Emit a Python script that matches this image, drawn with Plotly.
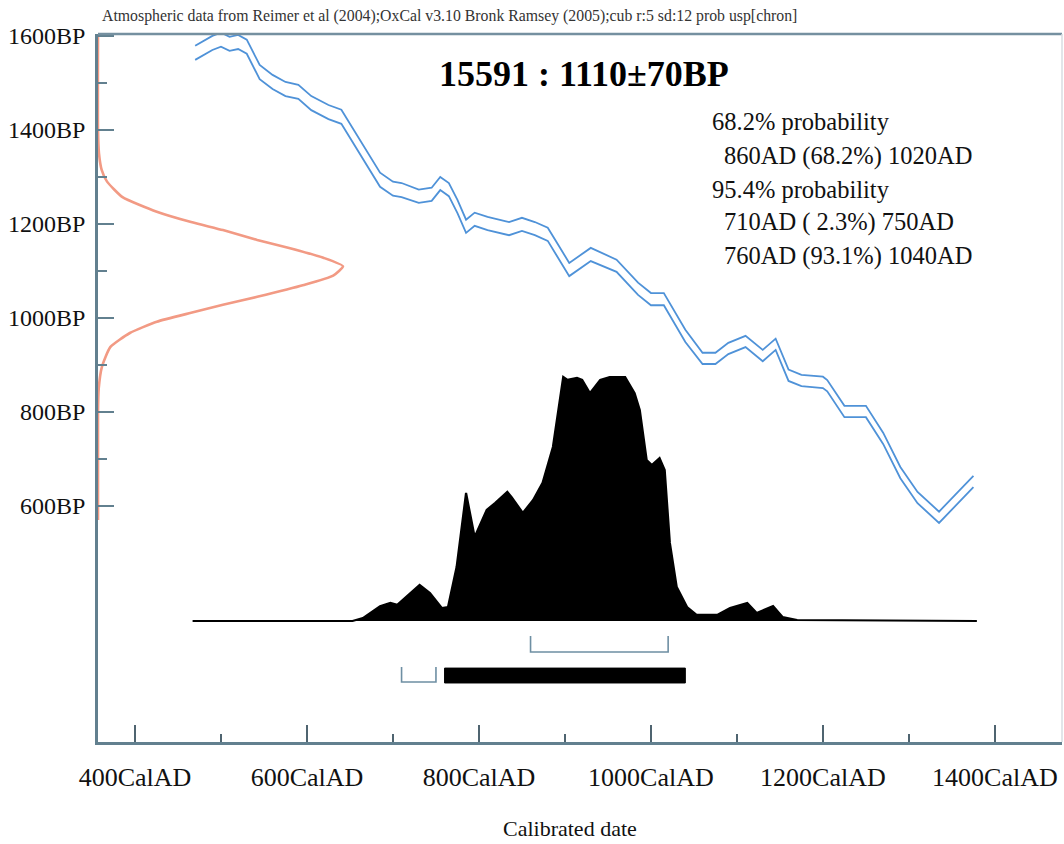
import plotly.graph_objects as go

# ---------------- data ----------------
# calibration curve (IntCal04 excerpt): calendar year AD, radiocarbon BP, 1-sigma
cal_years = [470, 490, 500, 510, 520, 530, 545, 560, 575, 590,
             605, 625, 640, 655, 670, 685, 700, 710, 730, 745,
             755, 765, 775, 785, 795, 810, 835, 850, 865, 880,
             890, 905, 930, 960, 985, 1000, 1015, 1040, 1060, 1075,
             1090, 1110, 1130, 1145, 1160, 1175, 1200, 1205, 1225, 1250,
             1270, 1290, 1310, 1335, 1375]
cal_bp = [1564, 1585, 1592, 1583, 1587, 1577, 1523, 1502, 1487, 1481,
          1457, 1438, 1428, 1383, 1336, 1294, 1275, 1272, 1259, 1263,
          1286, 1273, 1237, 1195, 1210, 1201, 1190, 1199, 1190, 1178,
          1148, 1103, 1135, 1111, 1062, 1040, 1040, 962, 914, 914,
          935, 950, 920, 944, 878, 867, 863, 856, 801, 801,
          744, 671, 618, 576, 652]
cal_sigma = [15, 15, 15, 15, 15, 15, 15, 15, 15, 15,
             15, 15, 15, 15, 15, 15, 15, 15, 14, 14,
             14, 14, 14, 14, 14, 14, 14, 14, 14, 14,
             14, 14, 14, 13, 13, 13, 13, 13, 12, 12,
             12, 12, 12, 12, 12, 12, 12, 12, 12, 12,
             12, 12, 12, 12, 12]

# radiocarbon measurement 1110 +/- 70 BP (relative density)
meas_bp = [1600, 1400, 1350, 1315, 1290, 1257, 1226, 1204, 1187, 1166,
           1149, 1128, 1110, 1090, 1070, 1045, 1028, 1011, 992, 968,
           938, 896, 850, 800, 570]
meas_density = [0, 0, 0.004, 0.015, 0.037, 0.10, 0.24, 0.38, 0.51, 0.65,
                0.78, 0.92, 1.0, 0.96, 0.84, 0.65, 0.51, 0.38, 0.24, 0.13,
                0.05, 0.016, 0.003, 0, 0]

# calibrated probability distribution (relative)
prob_years = [467, 653, 665, 675, 685, 697, 705, 731, 743, 757,
              764, 774, 785, 795, 809, 819, 833, 838, 851, 863,
              874, 886, 898, 903, 914, 920, 929, 941, 952, 970,
              981, 987, 995, 1001, 1010, 1016, 1022, 1030, 1042, 1053,
              1077, 1092, 1112, 1123, 1142, 1153, 1170, 1379]
prob = [0, 0, 0.012, 0.035, 0.06, 0.074, 0.066, 0.148, 0.115, 0.053,
        0.057, 0.221, 0.525, 0.344, 0.455, 0.484, 0.529, 0.508, 0.443, 0.496,
        0.566, 0.713, 1.0, 0.988, 0.996, 0.988, 0.934, 0.988, 1.0, 1.0,
        0.934, 0.865, 0.66, 0.639, 0.668, 0.619, 0.32, 0.139, 0.057, 0.025,
        0.025, 0.053, 0.074, 0.033, 0.061, 0.016, 0.004, 0]

# calibrated ranges
range68_from = [860]
range68_to = [1020]
range68_pct = [68.2]
range95_from = [710, 760]
range95_to = [750, 1040]
range95_pct = [2.3, 93.1]

x_tick_vals = [400, 600, 800, 1000, 1200, 1400]
x_tick_text = ["400CalAD", "600CalAD", "800CalAD", "1000CalAD", "1200CalAD", "1400CalAD"]
x_minor_vals = [500, 700, 900, 1100, 1300]
y_tick_vals = [600, 800, 1000, 1200, 1400, 1600]
y_tick_text = ["600BP", "800BP", "1000BP", "1200BP", "1400BP", "1600BP"]
y_minor_vals = [700, 900, 1100, 1300, 1500]

title_text = "15591 : 1110\u00b170BP"
header_text = ("Atmospheric data from Reimer et al (2004);OxCal v3.10 Bronk Ramsey (2005);"
               "cub r:5 sd:12 prob usp[chron]")

# ---------------- styling / layout ----------------
W, H = 1064, 844
ML, MR, MT, MB = 98, 2, 34, 102
PW, PH = W - ML - MR, H - MT - MB
FONT = "Liberation Serif"
AXC = "#62808f"
BLUE = "#4f92d8"
RED = "#f29a84"


def px(xp):
    return (xp - ML) / PW


def py(yp):
    return (H - MB - yp) / PH


fig = go.Figure()

# calibration curve band (two lines)
upper = [b + s for b, s in zip(cal_bp, cal_sigma)]
lower = [b - s for b, s in zip(cal_bp, cal_sigma)]
for band in (upper, lower):
    fig.add_trace(go.Scatter(x=cal_years, y=band, mode="lines",
                             line=dict(color=BLUE, width=1.8),
                             hoverinfo="skip", showlegend=False))

# measurement distribution on left
fig.add_trace(go.Scatter(x=meas_density, y=meas_bp, mode="lines", xaxis="x2", yaxis="y",
                         line=dict(color=RED, width=2.6, shape="spline", smoothing=0.5),
                         hoverinfo="skip", showlegend=False))

# calibrated distribution
fig.add_trace(go.Scatter(x=prob_years, y=prob, mode="lines", xaxis="x", yaxis="y2",
                         fill="tozeroy", fillcolor="black",
                         line=dict(color="black", width=2.2),
                         hoverinfo="skip", showlegend=False))

# range brackets (positions in probability-axis units below the baseline)
shapes = []
BR68_Y, BR68_TOP = -0.127, -0.061
BR95_Y, BR95_TOP = -0.250, -0.189
BAR_TOP, BAR_BOT = -0.193, -0.254
BRC = "#6e8fa3"
for a, b in zip(range68_from, range68_to):
    shapes.append(dict(type="path", xref="x", yref="y2",
                       path=f"M {a},{BR68_TOP} L {a},{BR68_Y} L {b},{BR68_Y} L {b},{BR68_TOP}",
                       line=dict(color=BRC, width=1.6)))
for a, b, p in zip(range95_from, range95_to, range95_pct):
    if p > 50:
        shapes.append(dict(type="rect", xref="x", yref="y2", x0=a, x1=b, y0=BAR_BOT, y1=BAR_TOP,
                           fillcolor="black", line=dict(color="black", width=1)))
    else:
        shapes.append(dict(type="path", xref="x", yref="y2",
                           path=f"M {a},{BR95_TOP} L {a},{BR95_Y} L {b},{BR95_Y} L {b},{BR95_TOP}",
                           line=dict(color=BRC, width=1.6)))

# frame: top line and faint right line
shapes.append(dict(type="line", xref="paper", yref="paper", x0=0, x1=1, y0=1.0, y1=1.0,
                   line=dict(color="#7590a0", width=2.5)))
shapes.append(dict(type="line", xref="paper", yref="paper", x0=1, x1=1, y0=0, y1=1,
                   line=dict(color="#d8dde2", width=1.5)))

annotations = []
annotations.append(dict(text=header_text, xref="paper", yref="paper", x=px(100), y=py(16),
                        xanchor="left", yanchor="middle", showarrow=False,
                        font=dict(family=FONT, size=15.8, color="#333")))
annotations.append(dict(text=f"<b>{title_text}</b>", xref="paper", yref="paper",
                        x=px(584), y=py(74), xanchor="center", yanchor="middle", showarrow=False,
                        font=dict(family=FONT, size=36, color="black")))

lines = [("68.2% probability", 710, 122)]
for a, b, p in zip(range68_from, range68_to, range68_pct):
    lines.append((f"{a}AD ({p:4.1f}%) {b}AD", 722, 156))
lines.append(("95.4% probability", 710, 189))
yy = 222
for a, b, p in zip(range95_from, range95_to, range95_pct):
    lines.append((f"{a}AD ({p:4.1f}%) {b}AD".replace("( ", "(&nbsp;"), 722, yy))
    yy += 34
for t, xp, yp in lines:
    annotations.append(dict(text=t, xref="paper", yref="paper", x=px(xp), y=py(yp),
                            xanchor="left", yanchor="middle", showarrow=False,
                            font=dict(family=FONT, size=24.5, color="#111")))

annotations.append(dict(text="Calibrated date", xref="paper", yref="paper", x=px(570), y=py(829),
                        xanchor="center", yanchor="middle", showarrow=False,
                        font=dict(family=FONT, size=22, color="#111")))

fig.update_layout(
    width=W, height=H,
    margin=dict(l=ML, r=MR, t=MT, b=MB, pad=0, autoexpand=False),
    paper_bgcolor="white", plot_bgcolor="white",
    showlegend=False,
    xaxis=dict(range=[357, 1478], tickmode="array", tickvals=x_tick_vals, ticktext=x_tick_text,
               automargin=False,
               ticks="inside", ticklen=17, tickwidth=1.6, tickcolor="#4f6470",
               showline=True, linecolor=AXC, linewidth=2.5, showgrid=False, zeroline=False,
               tickfont=dict(family=FONT, size=26, color="#111"), ticklabelstandoff=10,
               minor=dict(tickvals=x_minor_vals, ticks="inside", ticklen=8, tickwidth=1.6,
                          tickcolor="#4f6470", showgrid=False)),
    yaxis=dict(range=[98, 1604], tickmode="array", tickvals=y_tick_vals, ticktext=y_tick_text,
               automargin=False,
               ticks="inside", ticklen=16, tickwidth=2, tickcolor=AXC,
               showline=True, linecolor=AXC, linewidth=2.5, showgrid=False, zeroline=False,
               tickfont=dict(family=FONT, size=24, color="#111"), ticklabelstandoff=5,
               minor=dict(tickvals=y_minor_vals, ticks="inside", ticklen=9, tickwidth=2,
                          tickcolor=AXC, showgrid=False)),
    xaxis2=dict(overlaying="x", range=[0, 3.935], visible=False, side="top", automargin=False),
    yaxis2=dict(overlaying="y", range=[-0.4959, 2.4057], visible=False, automargin=False),
    shapes=shapes,
    annotations=annotations,
)

fig.write_html("out.html", config={"displayModeBar": False},
               post_script="document.body.style.margin='0px';document.body.style.overflow='hidden';")
